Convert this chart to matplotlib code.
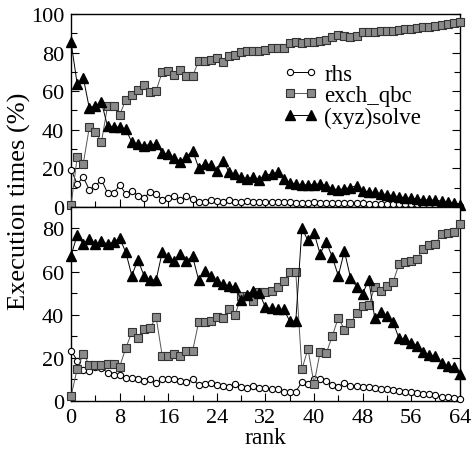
import matplotlib
matplotlib.use("Agg")
import matplotlib.pyplot as plt
from matplotlib.ticker import MultipleLocator

plt.rcParams['font.family'] = ['Liberation Serif', 'DejaVu Serif']

ranks = list(range(65))

# top panel
top_rhs = [19.3, 11.9, 15.4, 8.9, 10.9, 14.0, 7.3, 7.0, 11.5, 6.7, 8.5, 5.9, 4.5,
           7.9, 6.7, 3.8, 4.5, 5.4, 3.8, 5.4, 4.1, 2.8, 2.5, 3.5, 3.0, 2.5, 3.5,
           2.5, 2.5, 3.0, 2.5, 2.5, 2.8, 2.5, 2.3, 2.5, 2.5, 2.2, 2.2, 2.2, 2.3,
           2.0, 2.0, 2.0, 2.0, 1.8, 2.0, 1.8, 1.8, 1.7, 1.7, 1.6, 1.6, 1.5, 1.5,
           1.4, 1.3, 1.3, 1.2, 1.2, 1.1, 1.0, 0.9, 0.8, 0.7]
top_exch = [1.0, 25.7, 22.3, 41.3, 38.7, 33.7, 52.2, 52.2, 47.7, 55.5, 58.2, 60.8,
            63.0, 59.8, 60.2, 69.8, 70.2, 68.4, 71.1, 67.7, 67.7, 75.6, 75.6, 76.0,
            77.3, 75.3, 78.2, 78.5, 80.5, 81.0, 80.6, 81.0, 81.5, 82.5, 82.2, 82.5,
            85.0, 85.3, 85.0, 85.5, 85.5, 86.2, 86.7, 88.0, 89.0, 88.5, 88.0, 88.5,
            90.5, 90.8, 90.8, 91.0, 91.2, 91.4, 91.6, 92.0, 92.2, 92.6, 93.1, 93.2,
            93.5, 94.0, 94.8, 95.2, 96.0]
top_solve = [85.3, 63.7, 67.0, 51.2, 52.5, 54.2, 41.8, 41.6, 41.2, 40.3, 33.5, 32.5,
             31.8, 32.3, 32.4, 28.0, 27.3, 25.5, 23.5, 26.0, 29.2, 20.4, 22.3, 21.8,
             18.5, 24.0, 18.0, 16.8, 15.5, 14.5, 15.5, 14.0, 16.5, 17.0, 18.0, 14.5,
             12.2, 12.0, 11.5, 11.4, 11.6, 12.0, 11.0, 9.5, 8.8, 9.5, 10.0, 11.0,
             8.5, 7.8, 7.5, 6.8, 6.3, 5.8, 5.2, 4.8, 4.4, 4.0, 3.7, 3.6, 3.5, 3.0,
             2.6, 2.2, 1.2]

# bottom panel
bot_rhs = [23.3, 18.7, 14.1, 13.9, 15.6, 15.4, 13.0, 12.2, 12.2, 10.7, 10.5, 9.9,
           9.1, 9.9, 8.2, 10.2, 10.2, 10.0, 9.4, 8.9, 9.9, 7.4, 7.9, 8.3, 7.4, 7.1,
           6.6, 7.6, 6.3, 5.9, 7.1, 5.9, 5.9, 5.6, 5.3, 4.3, 4.0, 4.3, 8.7, 7.9,
           10.2, 10.0, 9.0, 7.4, 6.6, 8.2, 7.1, 7.0, 6.5, 6.2, 5.8, 5.6, 5.6, 5.2,
           4.5, 4.3, 4.0, 3.6, 3.3, 3.0, 2.5, 2.0, 1.6, 1.1, 0.7]
bot_exch = [2.2, 14.8, 21.8, 16.7, 16.7, 16.8, 17.2, 17.2, 15.9, 24.4, 31.9, 29.1,
            33.4, 33.9, 38.8, 21.0, 21.0, 21.8, 21.0, 23.0, 23.0, 36.5, 36.5, 37.2,
            38.8, 38.5, 42.5, 39.9, 48.6, 48.6, 46.5, 50.7, 50.7, 51.2, 53.0, 55.6,
            59.6, 59.6, 14.6, 24.1, 7.9, 22.6, 22.0, 30.0, 38.6, 33.1, 35.9, 40.6,
            43.9, 44.3, 52.7, 51.0, 53.2, 55.0, 63.5, 64.3, 65.1, 66.0, 70.7, 72.1,
            72.8, 77.5, 78.0, 78.5, 82.0]
bot_solve = [67.4, 77.0, 72.8, 75.1, 72.8, 74.1, 72.8, 73.6, 75.5, 69.0, 58.1, 65.5,
             58.1, 56.1, 56.1, 69.0, 66.6, 64.8, 68.2, 65.1, 67.1, 56.1, 60.4, 58.1,
             55.5, 54.3, 53.2, 52.7, 47.0, 49.0, 51.0, 50.0, 43.4, 42.9, 42.5, 42.5,
             37.0, 37.0, 80.0, 74.5, 78.0, 68.2, 73.8, 66.8, 58.0, 69.5, 57.2, 53.0,
             49.6, 56.3, 38.4, 41.4, 39.6, 36.5, 29.0, 28.8, 27.0, 25.6, 22.5, 21.2,
             21.0, 17.5, 16.2, 15.6, 12.5]

labels = ['rhs', 'exch_qbc', '(xyz)solve']


def draw(ax, rhs, exch, solve):
    ax.plot(ranks, rhs, color='black', lw=0.7, marker='o', ms=4.5, mfc='white',
            mec='black', mew=0.8, label=labels[0], clip_on=False, zorder=3)
    ax.plot(ranks, exch, color='#555555', lw=0.7, marker='s', ms=5.5, mfc='#8a8a8a',
            mec='#333333', mew=0.8, label=labels[1], clip_on=False, zorder=3)
    ax.plot(ranks, solve, color='black', lw=0.7, marker='^', ms=7, mfc='black',
            mec='black', label=labels[2], clip_on=False, zorder=3)
    ax.set_xlim(0, 64)
    ax.xaxis.set_major_locator(MultipleLocator(8))
    ax.xaxis.set_minor_locator(MultipleLocator(4))
    ax.yaxis.set_major_locator(MultipleLocator(20))
    ax.yaxis.set_minor_locator(MultipleLocator(10))
    ax.tick_params(which='both', direction='in', right=True, top=False,
                   labelsize=16, pad=5)
    ax.tick_params(which='major', length=6, width=0.8)
    ax.tick_params(which='minor', length=4, width=0.8)
    for s in ax.spines.values():
        s.set_linewidth(1.0)


fig = plt.figure(figsize=(4.74, 4.52), dpi=100)
ax1 = fig.add_axes([0.150, 0.540, 0.820, 0.427])
ax2 = fig.add_axes([0.150, 0.111, 0.820, 0.429], sharex=ax1)

draw(ax1, top_rhs, top_exch, top_solve)
draw(ax2, bot_rhs, bot_exch, bot_solve)
ax1.set_ylim(0, 100)
ax2.set_ylim(0, 90)
ax1.tick_params(labelbottom=False)

ax1.legend(loc='center left', bbox_to_anchor=(0.51, 0.575), frameon=False,
           fontsize=16.5, numpoints=2, handlelength=1.5, handletextpad=0.3,
           labelspacing=0.0, borderpad=0.1)

ax2.set_xlabel('rank', fontsize=17, labelpad=0)
fig.text(0.042, 0.555, 'Execution times (%)', rotation=90, fontsize=19,
         ha='center', va='center')

fig.savefig('out.png', dpi=100)
